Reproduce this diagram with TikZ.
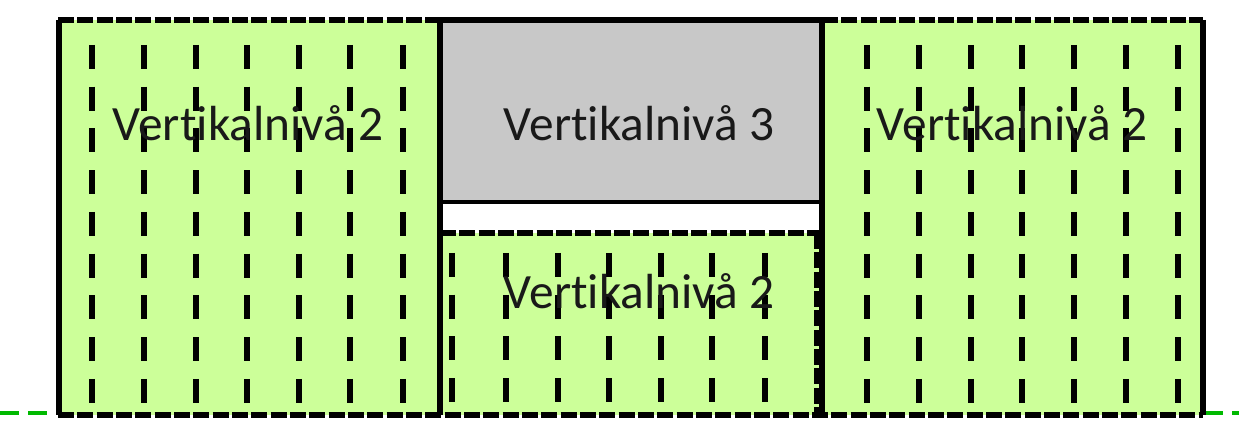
\documentclass[tikz,border=0pt]{standalone}
\usepackage{fontspec}
\setmainfont[RawFeature={-liga;-clig;-calt;-dlig}]{Carlito}
\definecolor{lgreen}{RGB}{204,255,153}
\definecolor{lgray}{RGB}{200,200,200}
\definecolor{groundgreen}{RGB}{0,185,0}
\tikzset{
  hatch/.style={line width=4pt, black, dash pattern=on 18pt off 13.3pt},
  dashedborder/.style={line width=4pt, black, dash pattern=on 12pt off 2.5pt},
  solidborder/.style={line width=4pt, black},
  lbl/.style={font=\fontsize{37}{42}\selectfont, anchor=base, inner sep=0pt, text=black!90},
  groundline/.style={line width=3.5pt, groundgreen, dash pattern=on 14pt off 7pt}
}
\begin{document}
\begin{tikzpicture}[x=0.75pt,y=-0.75pt]
\useasboundingbox (0,0) rectangle (1239,427);
% ground line
\coordinate (g0) at (0,413);
\coordinate (g1) at (1239,413);
\draw[groundline] (g0) -- (g1);
% fills
\fill[lgreen] (58,20) rectangle (440,415);
\fill[lgray] (440,20) rectangle (822,202);
\fill[lgreen] (440,233) rectangle (822,415);
\fill[lgreen] (822,20) rectangle (1203,415);
% hatch lines
\foreach \x in {92,144,196,247,299,350,403} \draw[hatch] (\x,45) -- (\x,415);
\foreach \x in {452,506,558,609,661,712,765} \draw[hatch] (\x,253) -- (\x,415);
\foreach \x in {867,919,971,1022,1074,1126,1178} \draw[hatch] (\x,45) -- (\x,415);
% dashed borders
\draw[dashedborder] (58,20) -- (440,20);
\draw[dashedborder] (822,20) -- (1203,20);
\draw[dashedborder] (58,415) -- (1203,415);
\draw[dashedborder] (440,233) -- (822,233);
\draw[solidborder] (59,20) -- (59,415);
\draw[dashedborder] (817,233) -- (817,415);
% solid borders
\draw[solidborder] (440,20) -- (440,415);
\draw[solidborder] (822,20) -- (822,415);
\draw[solidborder] (1203,20) -- (1203,415);
\draw[solidborder] (440,20) -- (822,20);
\draw[line width=3pt] (440,202) -- (822,202);
% labels
\node[lbl] (l1) at (248,141) {Vertikalnivå 2};
\node[lbl] (l2) at (639,141) {Vertikalnivå 3};
\node[lbl] (l3) at (639,309) {Vertikalnivå 2};
\node[lbl] (l4) at (1012,141) {Vertikalnivå 2};
\end{tikzpicture}
\end{document}
